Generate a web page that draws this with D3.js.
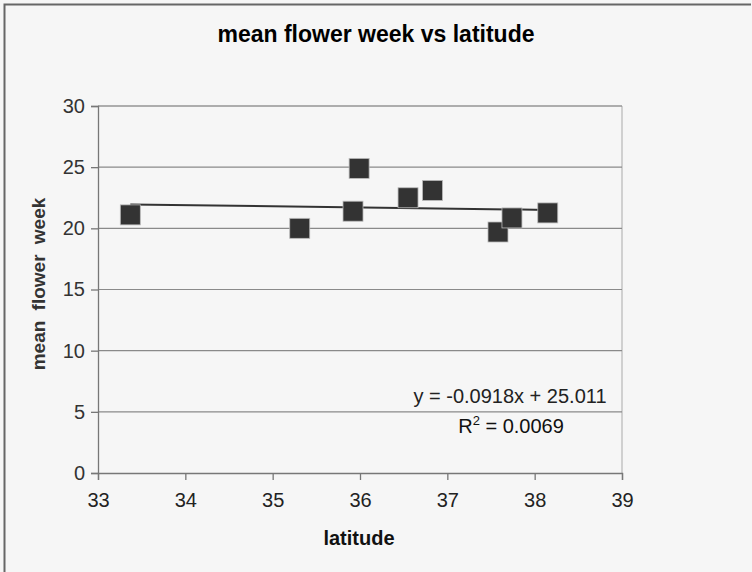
<!DOCTYPE html>
<html><head><meta charset="utf-8">
<script src="https://cdn.jsdelivr.net/npm/d3@7"></script>
<style>body{margin:0;background:#f6f6f6}svg{display:block}</style>
</head><body>
<svg id="c" width="752" height="572"></svg>
<script>
const latitude = [33.37, 35.31, 35.99, 35.92, 36.55, 36.83, 37.58, 37.74, 38.15];
const meanWeek = [21.1, 20.0, 24.9, 21.4, 22.5, 23.1, 19.7, 20.85, 21.26];
const xTicks = [33, 34, 35, 36, 37, 38, 39];
const yTicks = [0, 5, 10, 15, 20, 25, 30];
const slope = -0.0918, intercept = 25.011;
const eqText = "y = -0.0918x + 25.011";
const r2Value = "0.0069";

const svg = d3.select("#c");
const font = "Liberation Sans, Arial, sans-serif";
const L = 98, R = 622, T = 106, B = 473;
const x = d3.scaleLinear().domain([33, 39]).range([L, R]);
const y = d3.scaleLinear().domain([0, 30]).range([B, T]);

svg.append("rect").attr("width", 752).attr("height", 572).attr("fill", "#f6f6f6");
svg.append("path").attr("d", "M4.5,572V4.5H751").attr("fill", "none").attr("stroke", "#666").attr("stroke-width", 2);

// plot border
svg.append("path").attr("d", `M${L},${T}H${R}V${B}`).attr("fill", "none").attr("stroke", "#aaa").attr("stroke-width", 1);

// gridlines
svg.append("g").selectAll("line").data(yTicks.filter(d => d > 0)).join("line")
  .attr("x1", L).attr("x2", R).attr("y1", d => y(d)).attr("y2", d => y(d))
  .attr("stroke", "#8a8a8a").attr("stroke-width", 1.2);

// axes
const yAxis = svg.append("g").attr("transform", `translate(${L},0)`)
  .call(d3.axisLeft(y).tickValues(yTicks).tickFormat(d3.format("d")).tickSize(7).tickPadding(6));
const xAxis = svg.append("g").attr("transform", `translate(0,${B})`)
  .call(d3.axisBottom(x).tickValues(xTicks).tickFormat(d3.format("d")).tickSize(7).tickPadding(13));
[yAxis, xAxis].forEach(g => {
  g.select(".domain").attr("stroke", "#777").attr("stroke-width", 1.3);
  g.selectAll(".tick line").attr("stroke", "#777").attr("stroke-width", 1.3);
  g.selectAll("text").attr("font-family", font).attr("font-size", 20).attr("fill", "#222");
});
yAxis.selectAll("text").attr("fill", "#333");

// trendline
const x0 = d3.min(latitude), x1 = d3.max(latitude);
svg.append("line")
  .attr("x1", x(x0)).attr("y1", y(slope * x0 + intercept))
  .attr("x2", x(x1)).attr("y2", y(slope * x1 + intercept))
  .attr("stroke", "#333").attr("stroke-width", 2);

// points
const pts = latitude.map((d, i) => [d, meanWeek[i]]);
svg.append("g").selectAll("rect").data(pts).join("rect")
  .attr("x", d => x(d[0]) - 10).attr("y", d => y(d[1]) - 10)
  .attr("width", 20).attr("height", 20)
  .attr("fill", "#333").attr("stroke", "#bbb").attr("stroke-width", 0.8);

// title
svg.append("text").attr("x", 376).attr("y", 42).attr("text-anchor", "middle")
  .attr("font-family", font).attr("font-weight", "bold").attr("font-size", 23)
  .attr("fill", "#000").text("mean flower week vs latitude");

// axis titles
svg.append("text").attr("x", 359).attr("y", 545).attr("text-anchor", "middle")
  .attr("font-family", font).attr("font-weight", "bold").attr("font-size", 20)
  .attr("fill", "#111").text("latitude");
svg.append("text").attr("transform", "translate(45,284) rotate(-90)").attr("text-anchor", "middle")
  .attr("font-family", font).attr("font-weight", "bold").attr("font-size", 19)
  .attr("word-spacing", 5).attr("fill", "#333").text("mean flower week");

// equation
svg.append("text").attr("x", 510).attr("y", 403).attr("text-anchor", "middle")
  .attr("font-family", font).attr("font-size", 20).attr("fill", "#222").text(eqText);
const r2 = svg.append("text").attr("x", 511).attr("y", 433).attr("text-anchor", "middle")
  .attr("font-family", font).attr("font-size", 20).attr("fill", "#111");
r2.append("tspan").text("R");
r2.append("tspan").attr("dy", -8).attr("font-size", 13).text("2");
r2.append("tspan").attr("dy", 8).text(" = " + r2Value);
</script>
</body></html>
